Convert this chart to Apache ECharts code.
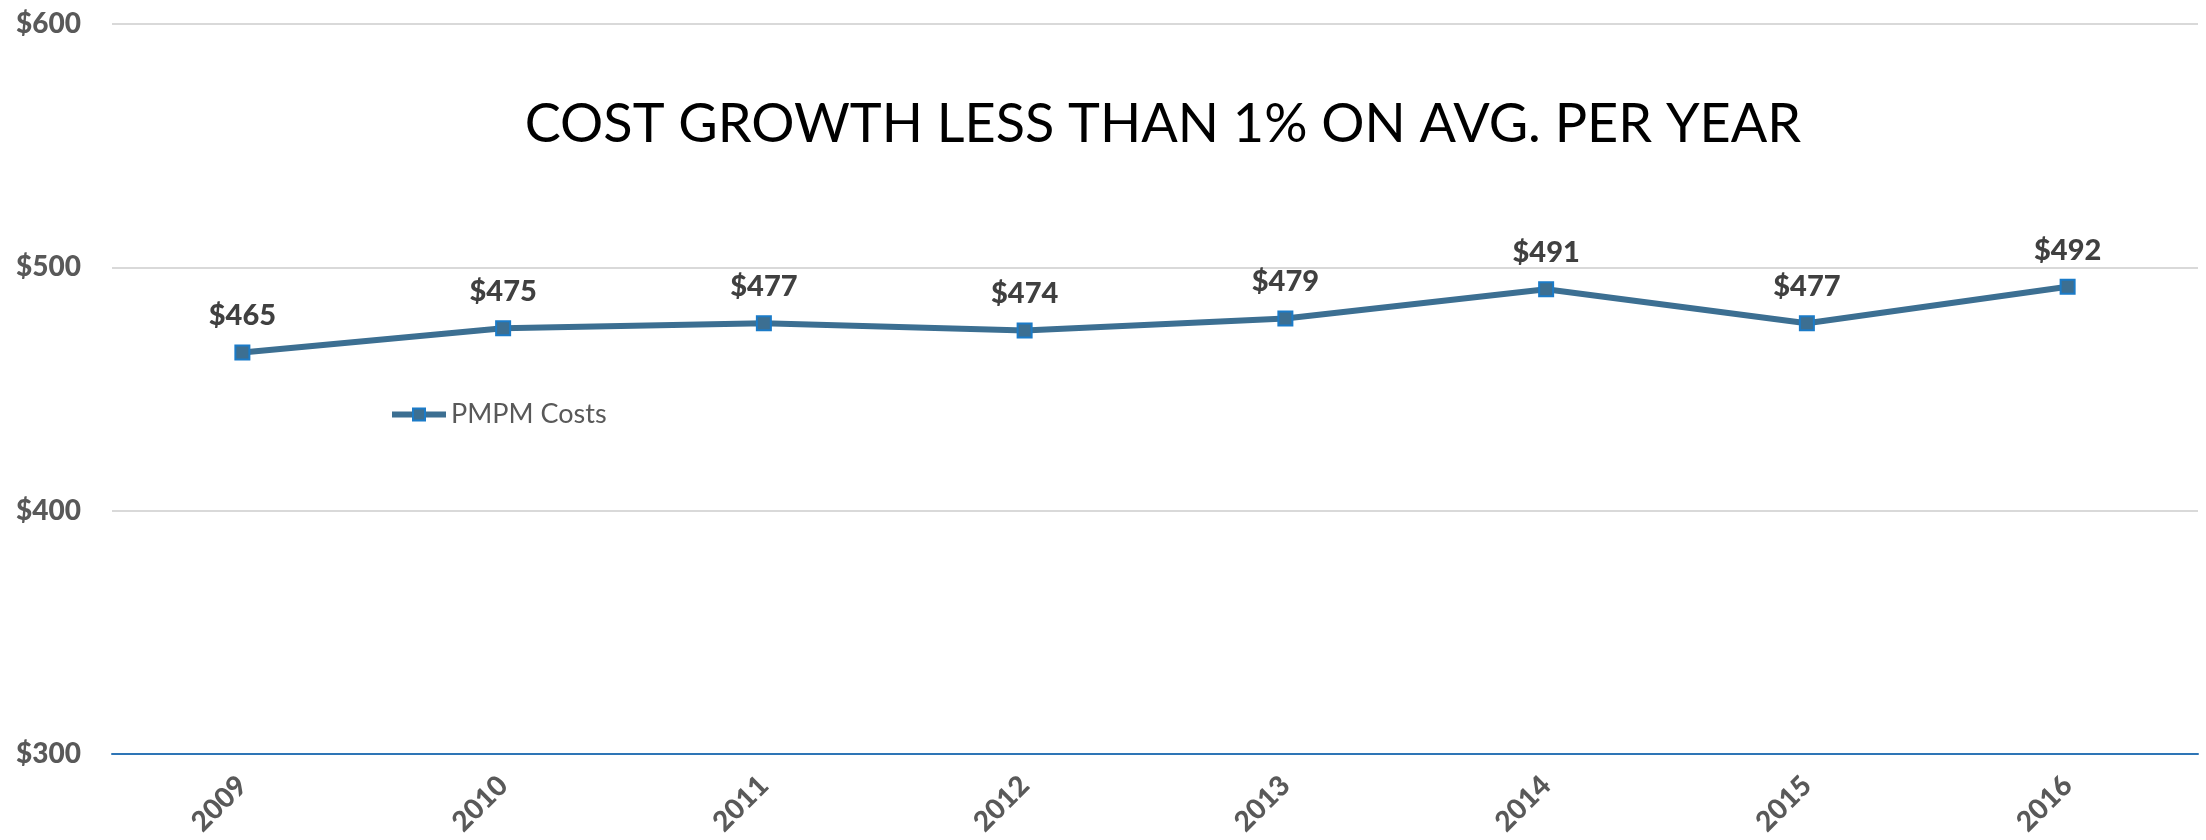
<!DOCTYPE html>
<html>
<head>
<meta charset="utf-8">
<script src="https://cdn.jsdelivr.net/npm/echarts@6/dist/echarts.min.js"></script>
<style>
    html, body { margin: 0; padding: 0; background: #fff; }
    #chart-box { width: 2206px; height: 840px; }
</style>
</head>
<body>
<div id="chart-box"></div>
<script>
// 数据
var years = ['2009', '2010', '2011', '2012', '2013', '2014', '2015', '2016'];
var pmpmCosts = [465, 475, 477, 474, 479, 491, 477, 492];
var yTicks = [300, 400, 500, 600];

var lineColor = '#3c6f92';
var labelFont = 'Lato, "Open Sans", sans-serif';

var chart = echarts.init(document.getElementById('chart-box'));

var option = {
    animation: false,
    title: {
        text: 'COST GROWTH LESS THAN 1% ON AVG. PER YEAR',
        left: 1158,
        top: 93,
        textAlign: 'center',
        textStyle: {
            color: '#000',
            fontFamily: labelFont,
            fontWeight: 'normal',
            fontSize: 54
        }
    },
    legend: {
        left: 384,
        top: 396,
        itemWidth: 54,
        itemHeight: 15,
        itemGap: 6,
        data: ['PMPM Costs'],
        lineStyle: { width: 6 },
        textStyle: {
            color: '#595959',
            fontFamily: labelFont,
            fontSize: 27
        }
    },
    grid: {
        left: 112,
        right: 8,
        top: 24,
        bottom: 86
    },
    xAxis: {
        type: 'category',
        data: years,
        boundaryGap: true,
        axisLine: {
            lineStyle: { color: '#2e75b6', width: 2 }
        },
        axisTick: { show: false },
        axisLabel: {
            rotate: 45,
            margin: 27,
            color: '#595959',
            fontWeight: 900,
            fontFamily: labelFont,
            fontSize: 28
        }
    },
    yAxis: {
        type: 'value',
        min: yTicks[0],
        max: yTicks[yTicks.length - 1],
        interval: 100,
        axisLine: { show: false },
        axisTick: { show: false },
        axisLabel: {
            margin: 31,
            color: '#595959',
            fontWeight: 900,
            fontFamily: labelFont,
            fontSize: 28,
            formatter: function (v) { return '$' + v; }
        },
        splitLine: {
            lineStyle: { color: '#d9d9d9', width: 2 }
        }
    },
    series: [{
        name: 'PMPM Costs',
        type: 'line',
        data: pmpmCosts,
        symbol: 'rect',
        symbolSize: 14,
        lineStyle: { color: lineColor, width: 6 },
        itemStyle: {
            color: lineColor,
            borderColor: '#1b7bc8',
            borderWidth: 2
        },
        label: {
            show: true,
            position: 'top',
            distance: 14,
            color: '#404040',
            fontWeight: 900,
            fontFamily: labelFont,
            fontSize: 29,
            formatter: function (p) { return '$' + p.value; }
        }
    }]
};

chart.setOption(option);
</script>
</body>
</html>
